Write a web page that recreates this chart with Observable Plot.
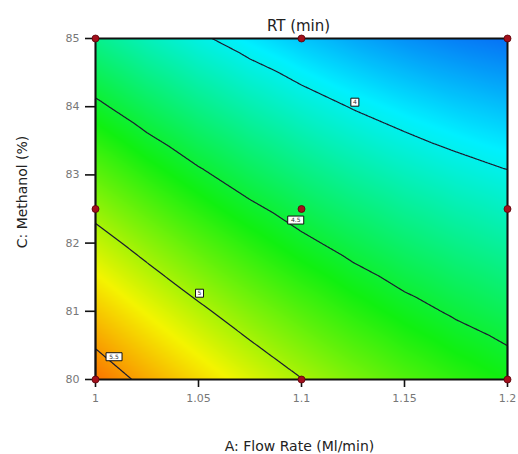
<!DOCTYPE html>
<html><head><meta charset="utf-8">
<script src="https://cdn.jsdelivr.net/npm/d3@7"></script>
<script src="https://cdn.jsdelivr.net/npm/@observablehq/plot@0.6"></script>
<style>body{margin:0;background:#fff;}</style>
</head><body><div id="chart"></div>
<script>
// Grid of RT (min) estimates
const flowRate = [1, 1.025, 1.05, 1.075, 1.1, 1.125, 1.15, 1.175, 1.2];
const methanol = [80, 81, 82, 83, 84, 85];
const rtRows = [
  [5.623, 5.449, 5.288, 5.140, 5.005, 4.883, 4.774, 4.679, 4.596], // 80
  [5.351, 5.187, 5.036, 4.897, 4.772, 4.660, 4.561, 4.475, 4.402], // 81
  [5.079, 4.925, 4.783, 4.655, 4.539, 4.437, 4.348, 4.272, 4.209], // 82
  [4.807, 4.662, 4.531, 4.412, 4.307, 4.214, 4.135, 4.069, 4.015], // 83
  [4.535, 4.400, 4.278, 4.170, 4.074, 3.991, 3.922, 3.865, 3.822], // 84
  [4.263, 4.138, 4.026, 3.927, 3.841, 3.768, 3.708, 3.662, 3.628]  // 85
];
const contourLevels = [4, 4.5, 5, 5.5];
const labelText = ["4", "4.5", "5", "5.5"];
const labelX = [1.1259, 1.0972, 1.0505, 1.009];
const labelY = [84.066, 82.338, 81.265, 80.334];
const designX = [1, 1, 1, 1.1, 1.1, 1.1, 1.2, 1.2, 1.2];
const designY = [80, 82.5, 85, 80, 82.5, 85, 80, 82.5, 85];
const xTicks = [1, 1.05, 1.1, 1.15, 1.2];
const yTicks = [80, 81, 82, 83, 84, 85];
const title = "RT (min)";
const xLabel = "A: Flow Rate (Ml/min)";
const yLabel = "C: Methanol (%)";

const grid = methanol.flatMap((m, i) => flowRate.map((f, j) => ({x: f, y: m, rt: rtRows[i][j]})));
const labels = labelText.map((t, i) => ({x: labelX[i], y: labelY[i], t}));
const design = designX.map((x, i) => ({x, y: designY[i]}));

const narrowBox = {draw(ctx) { ctx.rect(-4, -4, 8, 8); }};
const wideBox = {draw(ctx) { ctx.rect(-8, -4, 16, 8); }};

const chart = Plot.plot({
  width: 518, height: 454,
  marginLeft: 95, marginRight: 11, marginTop: 38, marginBottom: 75,
  style: {fontFamily: "DejaVu Sans", background: "white"},
  x: {domain: [1, 1.2]},
  y: {domain: [80, 85]},
  color: {type: "linear", domain: [3.45, 3.95, 4.6, 5.2, 5.9],
          range: ["#0a2cf0", "#00f0ff", "#10f010", "#f4f400", "#ff2000"], interpolate: "rgb"},
  marks: [
    Plot.raster(grid, {x: "x", y: "y", fill: "rt", interpolate: "barycentric",
                       x1: 1, x2: 1.2, y1: 80, y2: 85, pixelSize: 1}),
    Plot.contour(grid, {x: "x", y: "y", value: "rt", interpolate: "barycentric",
                        x1: 1, x2: 1.2, y1: 80, y2: 85, pixelSize: 1,
                        thresholds: contourLevels, fill: "none", stroke: "#1b1b30", strokeWidth: 1.2}),
    Plot.frame({stroke: "#111", strokeWidth: 2}),
    Plot.axisX({ticks: xTicks, tickSize: 8, tickPadding: 7, fontSize: 11, fill: "#777",
                stroke: "#111", strokeWidth: 1.6, label: null, tickFormat: d => String(d)}),
    Plot.axisY({ticks: yTicks, tickSize: 10, tickPadding: 6, fontSize: 11, fill: "#777",
                stroke: "#111", strokeWidth: 1.6, label: null, tickFormat: d => String(d)}),
    Plot.dot(labels.filter(d => d.t.length === 1), {x: "x", y: "y", symbol: narrowBox, r: 4,
                fill: "white", stroke: "#111", strokeWidth: 1}),
    Plot.dot(labels.filter(d => d.t.length > 1), {x: "x", y: "y", symbol: wideBox, r: 4,
                fill: "white", stroke: "#111", strokeWidth: 1}),
    Plot.text(labels, {x: "x", y: "y", text: "t", fontSize: 6, fill: "#333"}),
    Plot.dot(design, {x: "x", y: "y", r: 3.5, fill: "#a3101c", stroke: "#5a0008", strokeWidth: 0.8}),
    Plot.text([title], {text: d => d, frameAnchor: "top", lineAnchor: "middle", dy: -12, dx: -3,
                        fontSize: 15, fill: "#222", ariaLabel: "title"}),
    Plot.text([xLabel], {text: d => d, frameAnchor: "bottom", lineAnchor: "middle", dy: 67, dx: -2,
                         fontSize: 14, fill: "#222", ariaLabel: "xtitle"}),
    Plot.text([yLabel], {text: d => d, frameAnchor: "left", textAnchor: "middle", lineAnchor: "middle",
                         rotate: -90, dx: -73, dy: -17, fontSize: 14, fill: "#222", ariaLabel: "ytitle"})
  ]
});
document.getElementById("chart").appendChild(chart);
d3.select(chart).selectAll('g[aria-label="title"] text').attr("letter-spacing", 1);
d3.select(chart).selectAll('g[aria-label="xtitle"] text').attr("letter-spacing", 0.8);
</script></body></html>
